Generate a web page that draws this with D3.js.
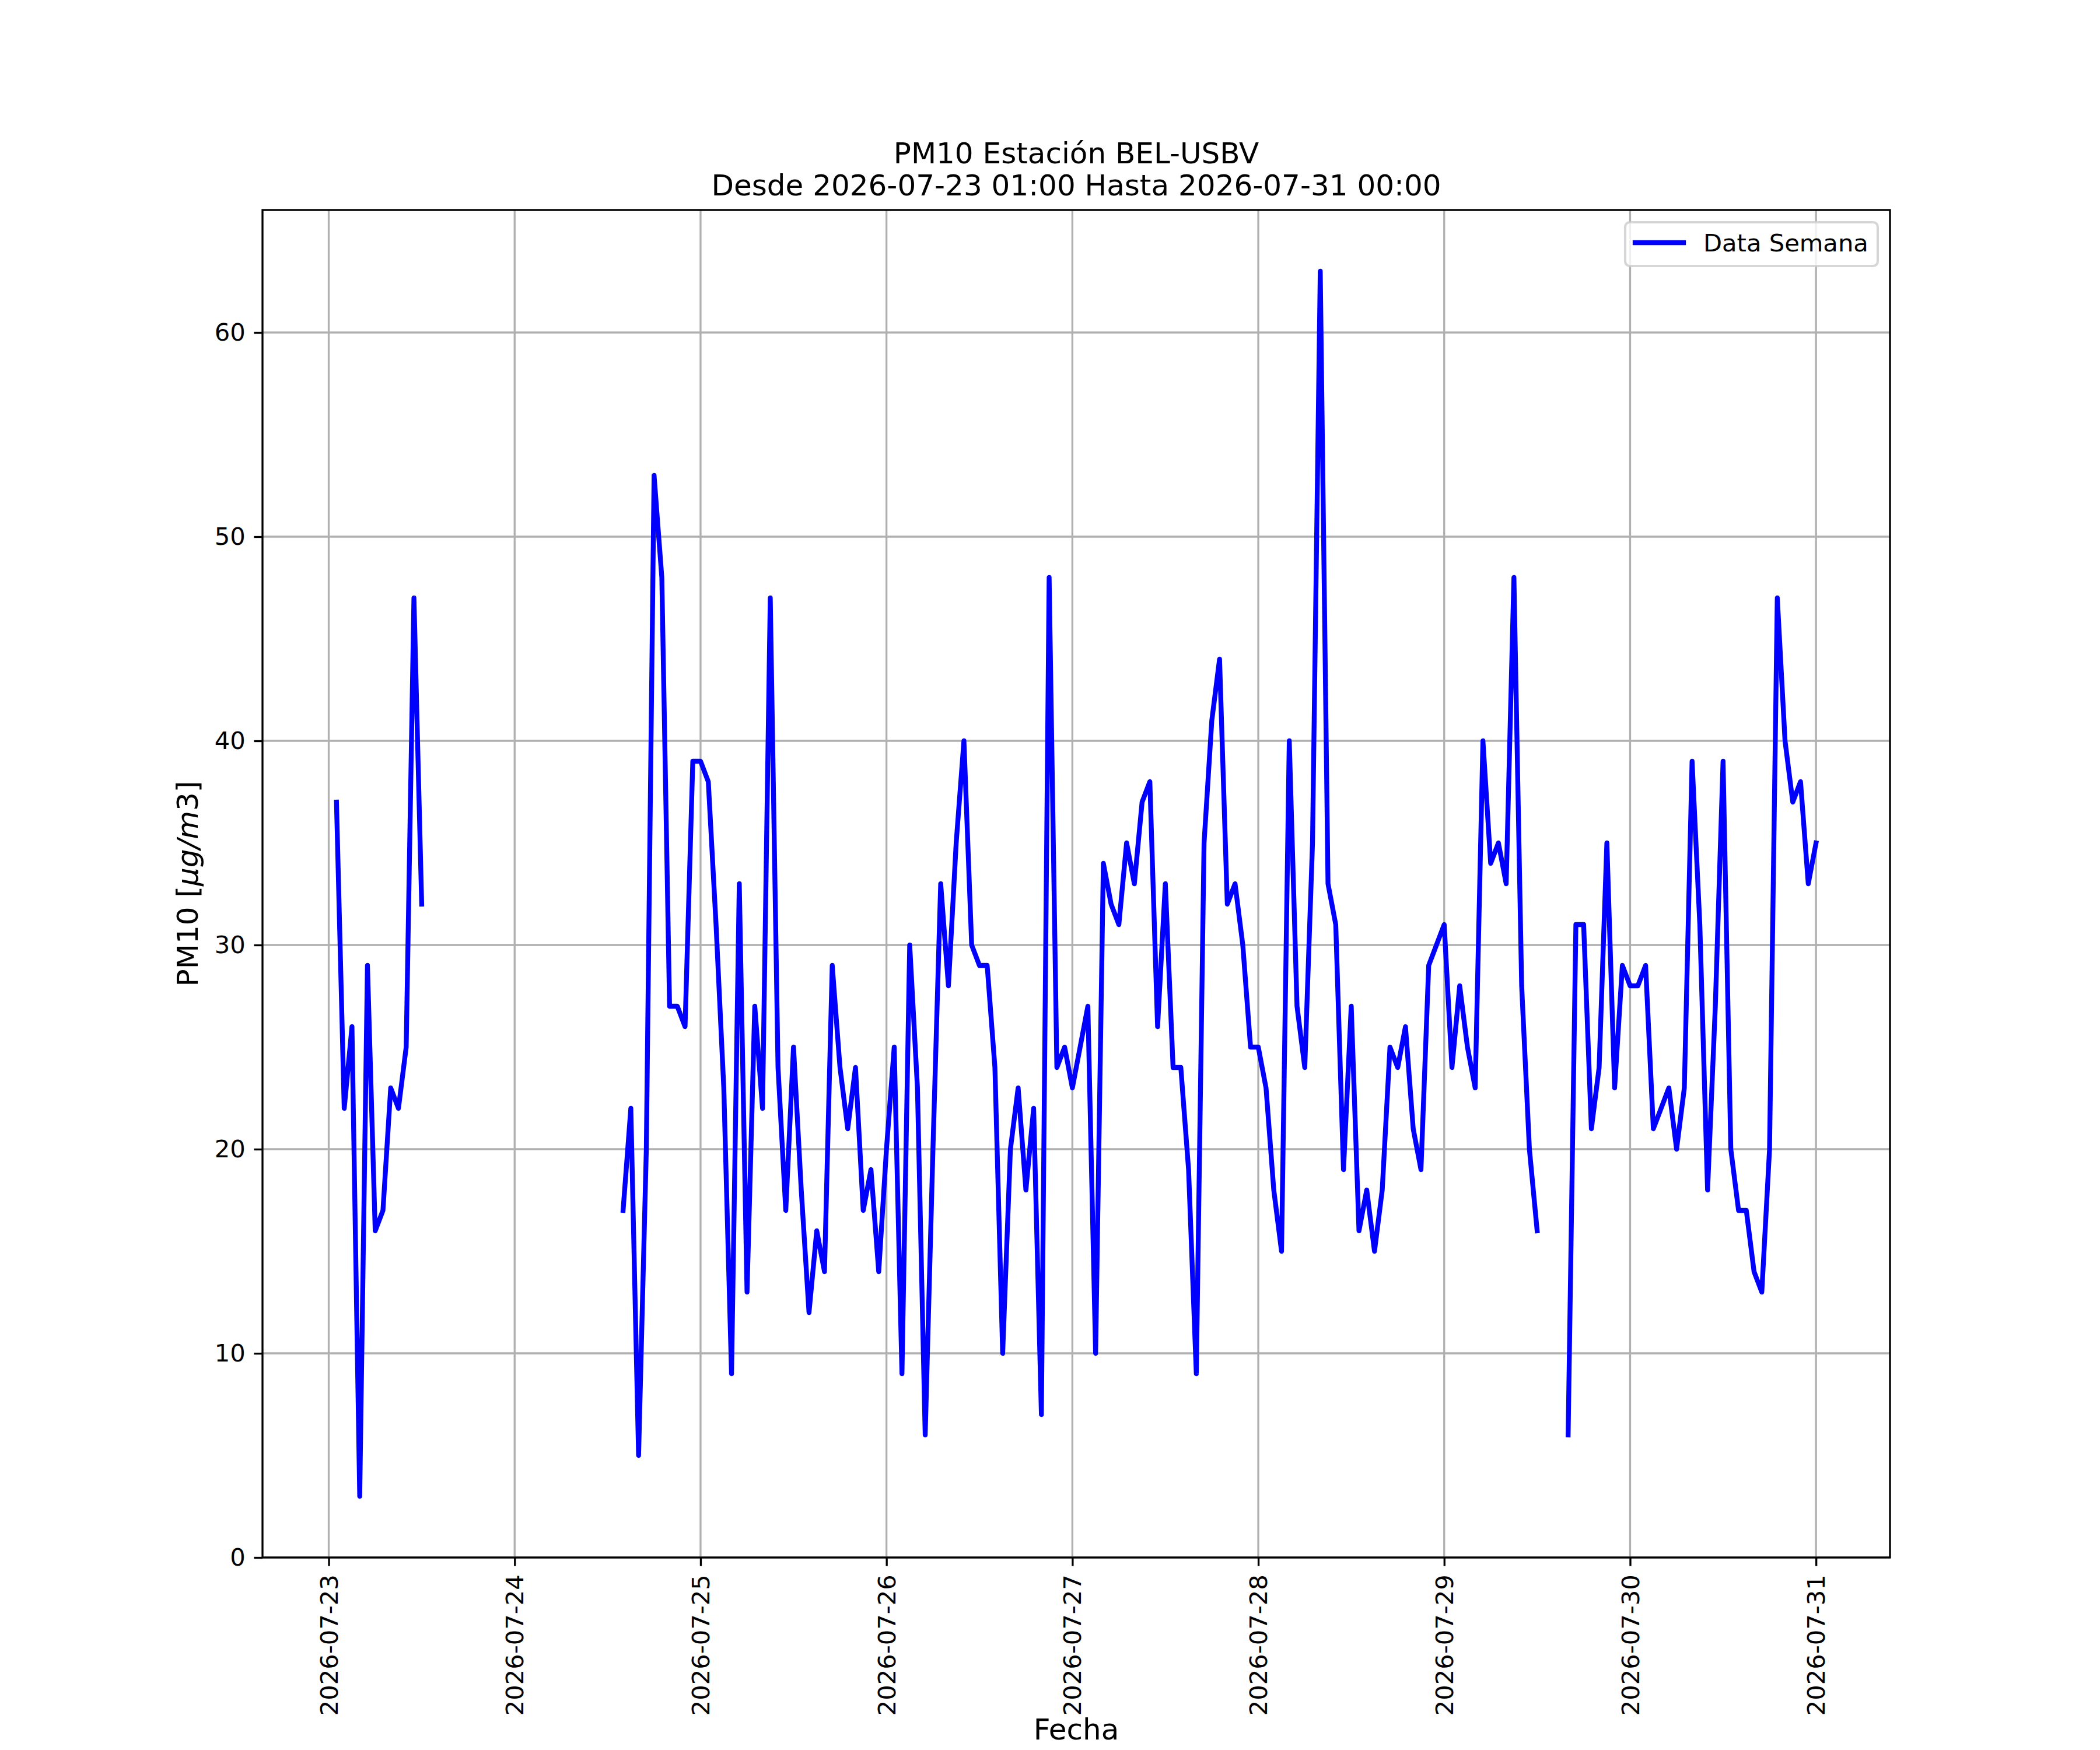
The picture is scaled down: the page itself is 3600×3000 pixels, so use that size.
<!DOCTYPE html>
<html>
<head>
<meta charset="utf-8">
<script src="https://cdn.jsdelivr.net/npm/d3@7"></script>
<style>
  html, body { margin: 0; padding: 0; background: #ffffff; }
  svg { display: block; font-family: "DejaVu Sans", sans-serif; }
</style>
</head>
<body>
<svg id="chart" width="3600" height="3000"></svg>
<script>
// ---- Data (hourly PM10 readings) ----
const seg1Start = "2026-07-23T01:00:00Z";
const seg1Values = [37,22,26,3,29,16,17,23,22,25,47,32];

const seg2Start = "2026-07-24T14:00:00Z";
const seg2Values = [17,22,5,20,53,48,27,27,26,39,
  39,38,31,23,9,33,13,27,22,47,24,17,25,18,12,16,14,29,24,21,24,17,19,14,
  20,25,9,30,23,6,20,33,28,35,40,30,29,29,24,10,20,23,18,22,7,48,24,25,
  23,25,27,10,34,32,31,35,33,37,38,26,33,24,24,19,9,35,41,44,32,33,30,25,
  25,23,18,15,40,27,24,35,63,33,31,19,27,16,18,15,18,25,24,26,21,19,29,30,
  31,24,28,25,23,40,34,35,33,48,28,20,16];

const seg3Start = "2026-07-29T16:00:00Z";
const seg3Values = [6,31,31,21,24,35,23,29,
  28,28,29,21,22,23,20,23,39,31,18,27,39,20,17,17,14,13,20,47,40,37,38,33,
  35];

const rangeStart = "2026-07-23T01:00:00Z";
const rangeEnd = "2026-07-31T00:00:00Z";
const yTicks = [0,10,20,30,40,50,60];
const titleLines = ["PM10 Estación BEL-USBV", "Desde 2026-07-23 01:00 Hasta 2026-07-31 00:00"];
const xLabel = "Fecha";
const legendLabel = "Data Semana";

// ---- Layout ----
const W = 3600, H = 3000;
const L = 450, R = 3240, T = 360, B = 2670;
const tickFont = 41.67, labelFont = 50;
const lw = 8.33, thin = 3.33, tickLen = 14.6, tickPad = 14.6;

const svg = d3.select("#chart");
svg.append("rect").attr("width", W).attr("height", H).attr("fill", "#ffffff");

function toSeries(start, vals) {
  const s = new Date(start);
  return vals.map((v, i) => ({ t: d3.utcHour.offset(s, i), v }));
}
const segments = [toSeries(seg1Start, seg1Values), toSeries(seg2Start, seg2Values), toSeries(seg3Start, seg3Values)];

const t0 = new Date(rangeStart), t1 = new Date(rangeEnd);
const pad = (t1 - t0) * 0.05;
const x = d3.scaleUtc().domain([new Date(+t0 - pad), new Date(+t1 + pad)]).range([L, R]);
const y = d3.scaleLinear().domain([0, 66]).range([B, T]);

const dayTicks = d3.utcDay.range(d3.utcDay.floor(t0), d3.utcDay.offset(d3.utcDay.floor(t1), 1));

// grid
const grid = svg.append("g");
grid.selectAll("line.vx").data(dayTicks).enter().append("line")
  .attr("x1", d => x(d)).attr("x2", d => x(d)).attr("y1", T).attr("y2", B)
  .attr("stroke", "#b0b0b0").attr("stroke-width", thin);
grid.selectAll("line.hy").data(yTicks).enter().append("line")
  .attr("x1", L).attr("x2", R).attr("y1", d => y(d)).attr("y2", d => y(d))
  .attr("stroke", "#b0b0b0").attr("stroke-width", thin);

// data line
const line = d3.line().x(d => x(d.t)).y(d => y(d.v));
svg.append("clipPath").attr("id", "clip").append("rect")
  .attr("x", L).attr("y", T).attr("width", R - L).attr("height", B - T);
svg.append("g").attr("clip-path", "url(#clip)").selectAll("path").data(segments).enter().append("path")
  .attr("d", line).attr("fill", "none").attr("stroke", "#0000ff")
  .attr("stroke-width", lw).attr("stroke-linejoin", "round").attr("stroke-linecap", "square");

// axes
const xAxis = d3.axisBottom(x).tickValues(dayTicks).tickFormat(d3.utcFormat("%Y-%m-%d"))
  .tickSize(tickLen).tickPadding(tickPad);
const gx = svg.append("g").attr("transform", `translate(0,${B})`).call(xAxis);
gx.select(".domain").remove();
gx.selectAll(".tick line").attr("stroke", "#000").attr("stroke-width", thin);
gx.selectAll(".tick text")
  .attr("font-size", tickFont).attr("font-family", "DejaVu Sans").attr("fill", "#000")
  .attr("x", 0).attr("y", 0).attr("dy", "0.35em")
  .attr("text-anchor", "end")
  .attr("transform", `translate(0,${tickLen + tickPad}) rotate(-90)`);

const yAxis = d3.axisLeft(y).tickValues(yTicks).tickFormat(d3.format("d"))
  .tickSize(tickLen).tickPadding(tickPad);
const gy = svg.append("g").attr("transform", `translate(${L},0)`).call(yAxis);
gy.select(".domain").remove();
gy.selectAll(".tick line").attr("stroke", "#000").attr("stroke-width", thin);
gy.selectAll(".tick text").attr("font-size", tickFont).attr("font-family", "DejaVu Sans").attr("fill", "#000");

// spines
svg.append("rect").attr("x", L).attr("y", T).attr("width", R - L).attr("height", B - T)
  .attr("fill", "none").attr("stroke", "#000").attr("stroke-width", thin);

// title
svg.append("text").attr("x", (L + R) / 2).attr("y", 280).attr("text-anchor", "middle")
  .attr("font-size", labelFont).attr("fill", "#000").text(titleLines[0]);
svg.append("text").attr("x", (L + R) / 2).attr("y", 335).attr("text-anchor", "middle")
  .attr("font-size", labelFont).attr("fill", "#000").text(titleLines[1]);

// x label
svg.append("text").attr("x", (L + R) / 2).attr("y", 2982).attr("text-anchor", "middle")
  .attr("font-size", labelFont).attr("fill", "#000").text(xLabel);

// y label
const yl = svg.append("text").attr("text-anchor", "middle")
  .attr("transform", `translate(339,${(T + B) / 2}) rotate(-90)`)
  .attr("font-size", labelFont).attr("fill", "#000");
yl.append("tspan").text("PM10 [");
yl.append("tspan").attr("font-style", "italic").text("μg/m");
yl.append("tspan").text("3]");

// legend
const lg = svg.append("g");
lg.append("rect").attr("x", 2786).attr("y", 381).attr("width", 433).attr("height", 75)
  .attr("rx", 8).attr("ry", 8)
  .attr("fill", "rgba(255,255,255,0.8)").attr("stroke", "rgba(204,204,204,0.8)").attr("stroke-width", 4.17);
lg.append("line").attr("x1", 2803).attr("x2", 2886).attr("y1", 416).attr("y2", 416)
  .attr("stroke", "#0000ff").attr("stroke-width", lw).attr("stroke-linecap", "square");
lg.append("text").attr("x", 2920).attr("y", 431).attr("font-size", tickFont).attr("fill", "#000").text(legendLabel);
</script>
</body>
</html>
